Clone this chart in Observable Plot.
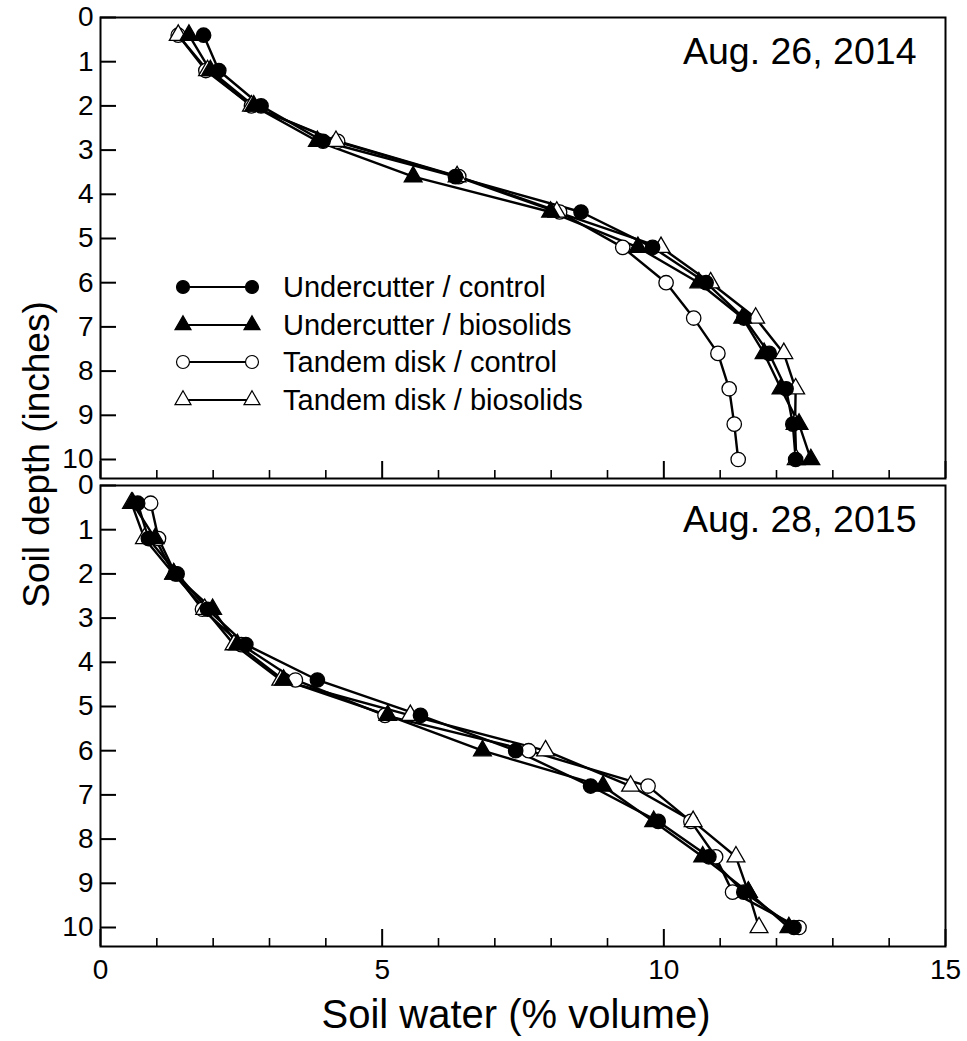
<!DOCTYPE html>
<html><head><meta charset="utf-8">
<script src="https://cdn.jsdelivr.net/npm/d3@7"></script>
<script src="https://cdn.jsdelivr.net/npm/@observablehq/plot@0.6"></script>
<style>
body{margin:0;background:#fff;}
#wrap{position:relative;width:967px;height:1041px;font-family:"Liberation Sans",Arial,Helvetica,sans-serif;}
#wrap > svg{display:block;}
</style></head><body><div id="wrap"></div>
<script>
// ---- data ----
const panels = ["Aug. 26, 2014", "Aug. 28, 2015"];
const seriesNames = ["Undercutter / control", "Undercutter / biosolids", "Tandem disk / control", "Tandem disk / biosolids"];
const depths = [0.4, 1.2, 2.0, 2.8, 3.6, 4.4, 5.2, 6.0, 6.8, 7.6, 8.4, 9.2, 10.0];

const ucControl2014   = [1.83, 2.10, 2.85, 3.95, 6.30, 8.53, 9.80, 10.75, 11.42, 11.87, 12.17, 12.29, 12.34];
const ucBiosolids2014 = [1.57, 1.95, 2.72, 3.85, 5.55, 7.99, 9.54, 10.62, 11.40, 11.78, 12.08, 12.40, 12.61];
const tdControl2014   = [1.38, 1.87, 2.68, 4.21, 6.36, 8.15, 9.27, 10.04, 10.53, 10.96, 11.16, 11.25, 11.32];
const tdBiosolids2014 = [1.38, 1.90, 2.68, 4.18, 6.33, 8.10, 9.95, 10.83, 11.63, 12.13, 12.34, 12.33, 12.35];

const ucControl2015   = [0.66, 0.85, 1.36, 1.90, 2.58, 3.85, 5.68, 7.37, 8.70, 9.90, 10.80, 11.42, 12.31];
const ucBiosolids2015 = [0.57, 0.97, 1.30, 1.99, 2.43, 3.25, 5.10, 6.78, 8.92, 9.82, 10.69, 11.50, 12.22];
const tdControl2015   = [0.89, 1.03, 1.33, 1.81, 2.50, 3.46, 5.05, 7.60, 9.72, 10.48, 10.92, 11.22, 12.40];
const tdBiosolids2015 = [0.55, 0.78, 1.30, 1.85, 2.37, 3.20, 5.50, 7.90, 9.41, 10.52, 11.28, 11.50, 11.69];

const xTickLabels = [0, 5, 10, 15];
const xMinorTicks = [1, 2, 3, 4, 6, 7, 8, 9, 11, 12, 13, 14];
const yTicks = [0, 1, 2, 3, 4, 5, 6, 7, 8, 9, 10];
const xLabel = "Soil water (% volume)";
const yLabel = "Soil depth (inches)";

// ---- table ----
const valuesByPanel = [
  [ucControl2014, ucBiosolids2014, tdControl2014, tdBiosolids2014],
  [ucControl2015, ucBiosolids2015, tdControl2015, tdBiosolids2015]
];
const rows = [];
panels.forEach((p, pi) => seriesNames.forEach((s, si) => depths.forEach((d, di) =>
  rows.push({panel: p, series: s, depth: d, water: valuesByPanel[pi][si][di]}))));

// ---- styles ----
const seriesStyle = [
  {symbol: "circle", fill: "black", stroke: "black", r: 7.2},
  {symbol: "triangle", fill: "black", stroke: "black", r: 6.6},
  {symbol: "circle", fill: "white", stroke: "black", r: 7.2},
  {symbol: "triangle", fill: "white", stroke: "black", r: 6.6}
];
const font = '"Liberation Sans", Arial, Helvetica, sans-serif';
const W = 967, H = 1041, mL = 100, mR = 22, mT = 17, mB = 95, gap = 7;
const band = (H - mT - mB - gap) / 2;

const drawOrder = [2, 3, 1, 0];
const dotMarks = drawOrder.map(si => {
  const st = seriesStyle[si];
  return Plot.dot(rows.filter(r => r.series === seriesNames[si]), {
    x: "water", y: "depth", fy: "panel", symbol: st.symbol, r: st.r,
    fill: st.fill, stroke: st.stroke, strokeWidth: 1.3
  });
});

const chart = Plot.plot({
  width: W, height: H,
  marginLeft: mL, marginRight: mR, marginTop: mT, marginBottom: mB,
  style: {fontFamily: font, fontSize: "28px", color: "black", background: "white", overflow: "visible"},
  x: {domain: [0, 15]},
  y: {domain: [0, 10.43], reverse: true},
  fy: {domain: panels, axis: null, paddingInner: gap / (band + gap), paddingOuter: 0},
  marks: [
    Plot.tickY(yTicks, {y: d => d, insetRight: W - mL - mR - 16, stroke: "black", strokeWidth: 2}),
    Plot.tickX(xMinorTicks, {x: d => d, insetTop: band - 8, stroke: "black", strokeWidth: 1.6}),
    Plot.tickX(xTickLabels, {x: d => d, insetTop: band - 17, stroke: "black", strokeWidth: 2}),
    Plot.axisY(yTicks, {tickSize: 0, tickPadding: 7, fontSize: 28, label: null}),
    Plot.axisX(xTickLabels, {tickSize: 0, tickPadding: 13, fontSize: 28, label: null}),
    Plot.line(rows, {x: "water", y: "depth", z: "series", fy: "panel", stroke: "black", strokeWidth: 2.4}),
    ...dotMarks,
    Plot.frame({stroke: "black", strokeWidth: 2}),
    Plot.text(panels, {fy: d => d, text: d => d, frameAnchor: "top-right", dx: -29, dy: 34,
      textAnchor: "end", lineAnchor: "middle", fontSize: 37.5}),
    Plot.text([yLabel], {fy: () => panels[0], text: d => d, frameAnchor: "bottom-left", rotate: -90,
      textAnchor: "middle", lineAnchor: "middle", dx: -63, dy: -24, fontSize: 37}),
    Plot.text([xLabel], {fy: () => panels[1], text: d => d, frameAnchor: "bottom",
      textAnchor: "middle", lineAnchor: "middle", dx: -7, dy: 69, fontSize: 40})
  ]
});
const wrap = document.getElementById("wrap");
wrap.appendChild(chart);

// ---- legend (overlay) ----
const leg = d3.select(wrap).append("svg")
  .attr("width", 460).attr("height", 160)
  .style("position", "absolute").style("left", "150px").style("top", "265px");
const rowY = [22, 60, 97, 135];
const xL = 33, xR = 102, xT = 133;
seriesNames.forEach((s, i) => {
  const st = seriesStyle[i];
  const g = leg.append("g").attr("transform", `translate(0,${rowY[i]})`);
  g.append("line").attr("x1", xL).attr("x2", xR).attr("stroke", "black").attr("stroke-width", 1.8);
  const sym = d3.symbol(st.symbol === "circle" ? d3.symbolCircle : d3.symbolTriangle, Math.PI * Math.pow(st.r * 0.9, 2));
  [xL, xR].forEach(x => g.append("path").attr("d", sym()).attr("transform", `translate(${x},0)`)
    .attr("fill", st.fill).attr("stroke", st.stroke).attr("stroke-width", 1.2));
  g.append("text").attr("x", xT).attr("dy", "0.35em").attr("font-family", font).attr("font-size", 29).text(s);
});
</script></body></html>
